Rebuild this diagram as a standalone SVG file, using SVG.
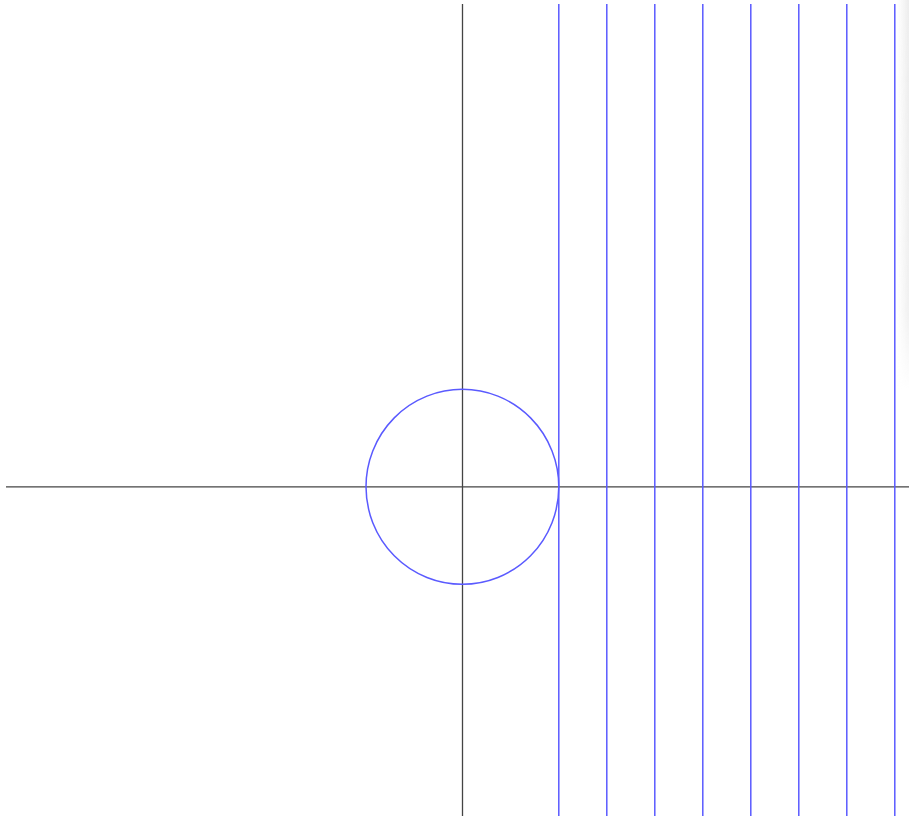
<svg xmlns="http://www.w3.org/2000/svg" width="909" height="816" viewBox="0 0 909 816">
<defs>
<linearGradient id="edgeH" x1="0" y1="0" x2="1" y2="0">
<stop offset="0" stop-color="#f0f0f0" stop-opacity="0"/>
<stop offset="1" stop-color="#ececec" stop-opacity="1"/>
</linearGradient>
<linearGradient id="edgeV" x1="0" y1="0" x2="0" y2="1">
<stop offset="0" stop-color="#fff" stop-opacity="1"/>
<stop offset="0.8" stop-color="#fff" stop-opacity="0.8"/>
<stop offset="1" stop-color="#fff" stop-opacity="0"/>
</linearGradient>
<mask id="fade"><rect x="896" y="0" width="13" height="390" fill="url(#edgeV)"/></mask>
</defs>
<style>
.axis{stroke:#444;stroke-width:1.3;fill:none}
.blue{stroke:#5a5aff;stroke-width:1.5;fill:none}
</style>
<rect width="909" height="816" fill="#fff"/>
<rect x="897" y="0" width="12" height="390" fill="url(#edgeH)" mask="url(#fade)"/>
<g id="axes">
<line class="axis" x1="462.5" y1="4" x2="462.5" y2="816"/>
<line class="axis" x1="6" y1="486.8" x2="909" y2="486.8"/>
</g>
<g id="circle">
<ellipse class="blue" cx="462.4" cy="486.8" rx="96.4" ry="97.5"/>
</g>
<g id="lines">
<line class="blue" x1="558.8" y1="4" x2="558.8" y2="816"/>
<line class="blue" x1="606.8" y1="4" x2="606.8" y2="816"/>
<line class="blue" x1="654.8" y1="4" x2="654.8" y2="816"/>
<line class="blue" x1="702.8" y1="4" x2="702.8" y2="816"/>
<line class="blue" x1="750.8" y1="4" x2="750.8" y2="816"/>
<line class="blue" x1="798.8" y1="4" x2="798.8" y2="816"/>
<line class="blue" x1="846.8" y1="4" x2="846.8" y2="816"/>
<line class="blue" x1="894.8" y1="4" x2="894.8" y2="816"/>
</g>
</svg>
